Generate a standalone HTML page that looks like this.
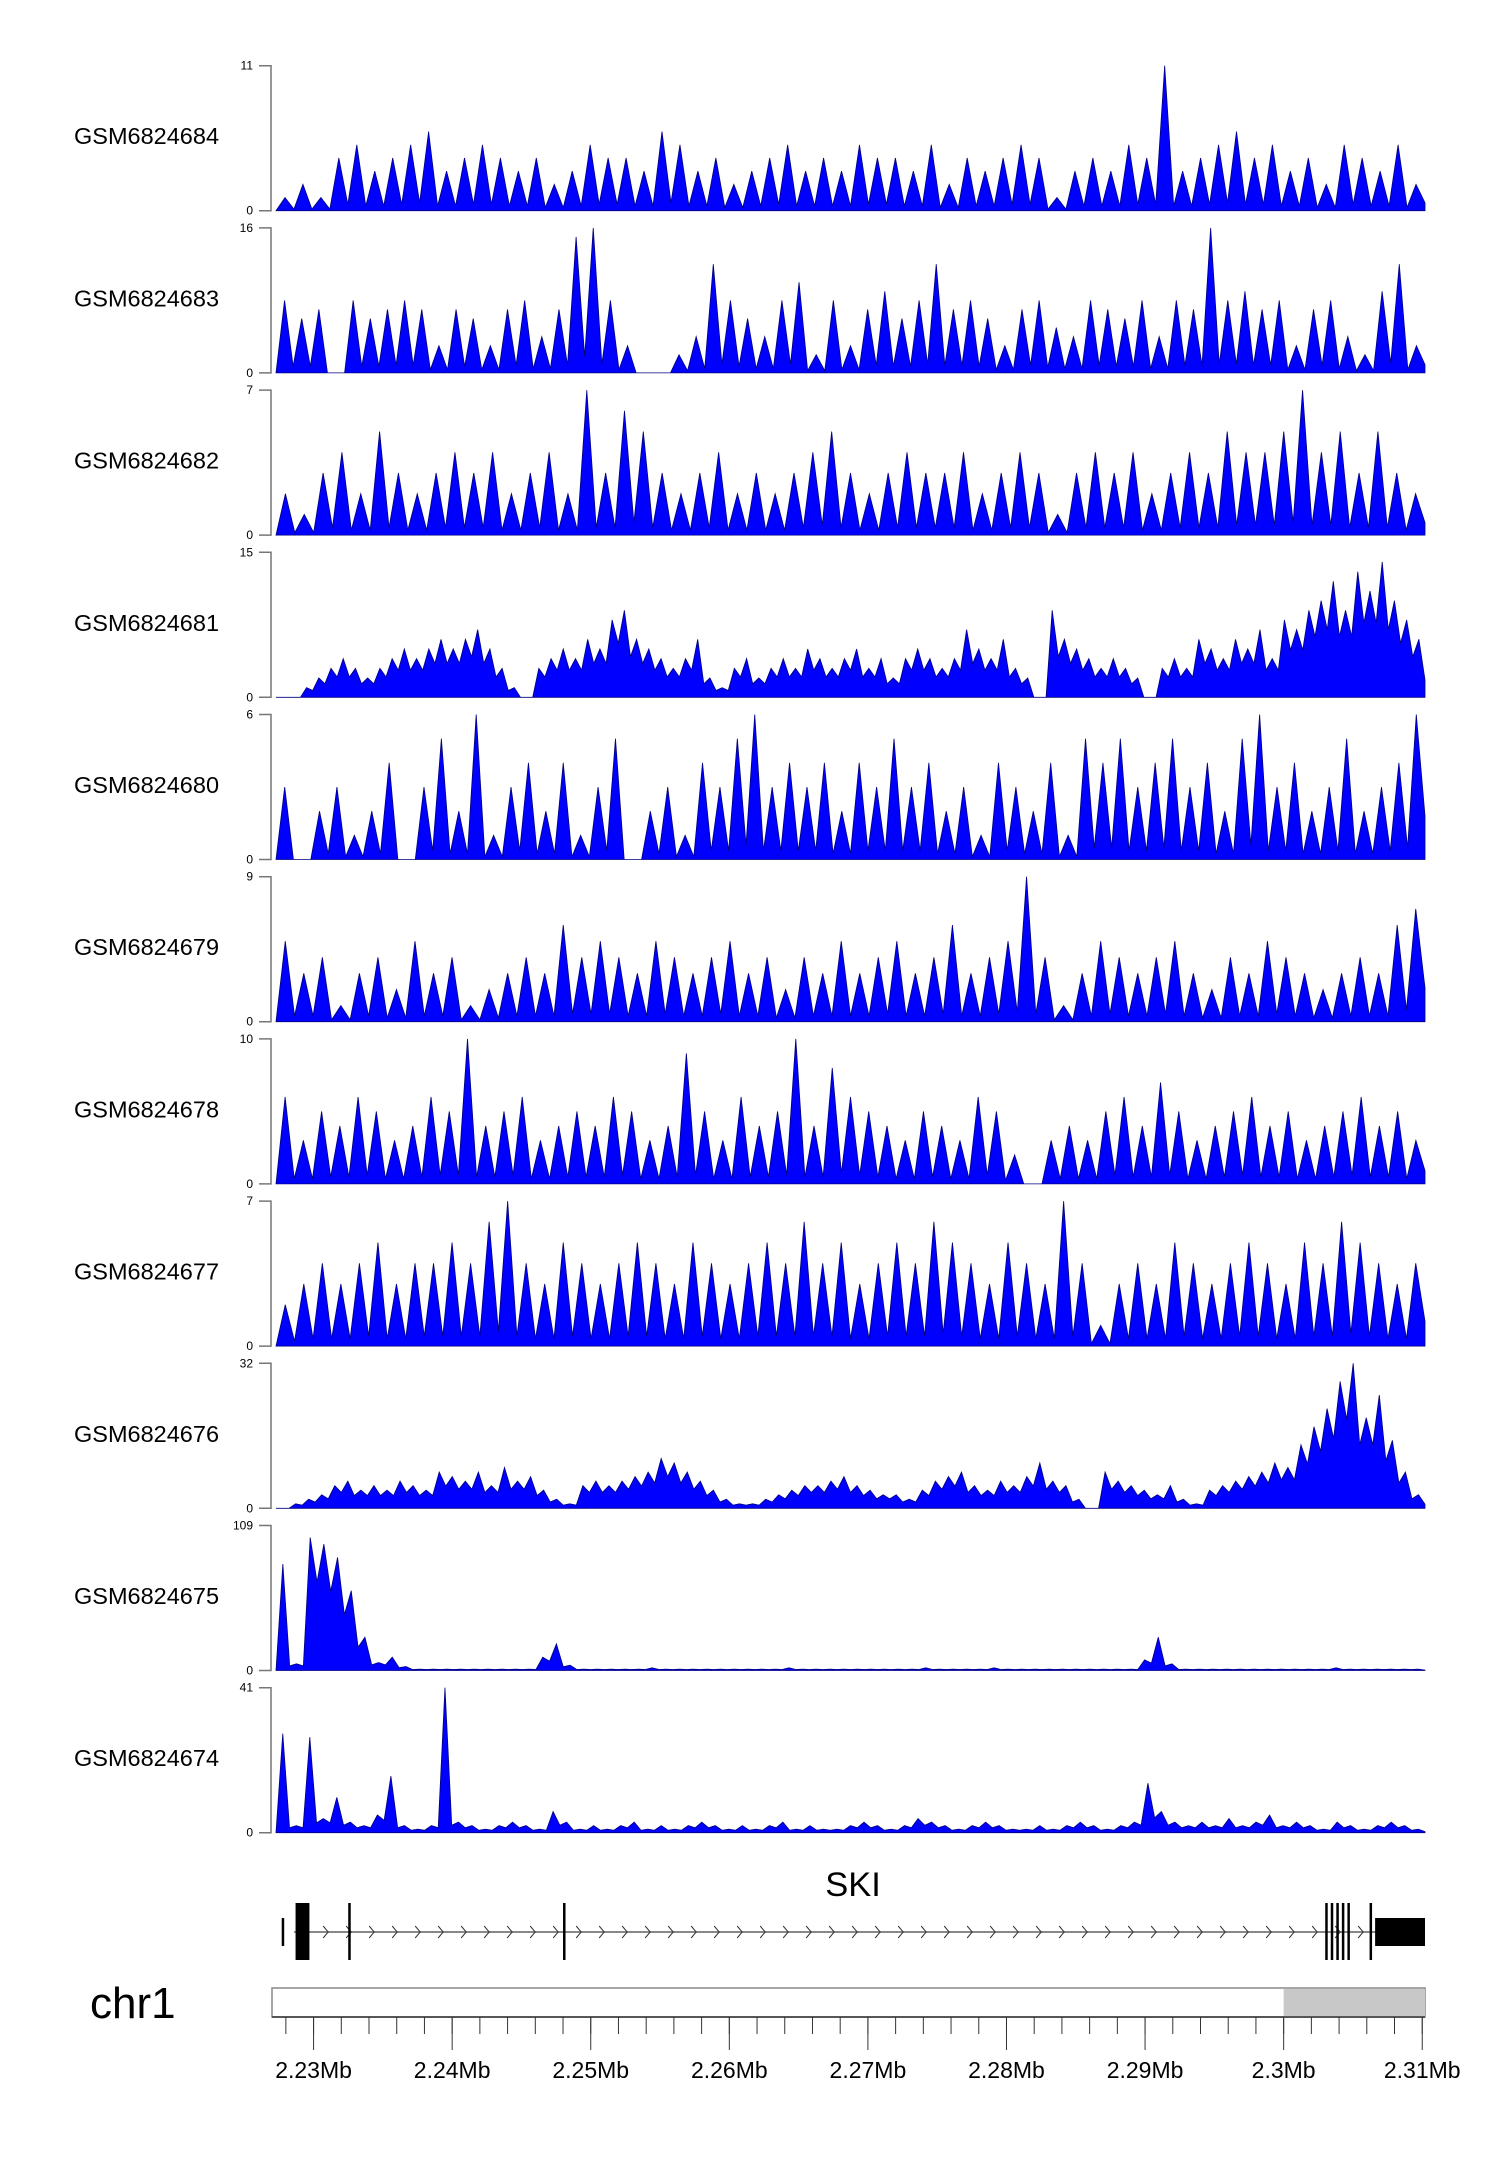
<!DOCTYPE html>
<html><head><meta charset="utf-8">
<style>
html,body{margin:0;padding:0;background:#fff;}
svg{display:block;font-family:"Liberation Sans",sans-serif;}
</style></head>
<body>
<svg id="chart" width="1500" height="2170" viewBox="0 0 1500 2170" xmlns="http://www.w3.org/2000/svg"></svg>
<script>
const trackNames = ["GSM6824684","GSM6824683","GSM6824682","GSM6824681","GSM6824680","GSM6824679","GSM6824678","GSM6824677","GSM6824676","GSM6824675","GSM6824674"];
const trackMax = [11,16,7,15,6,9,10,7,32,109,41];
const trackSmooth = [false,false,false,true,false,false,false,false,true,true,true];
const v684 = [1,2,1,4,5,3,4,5,6,3,4,5,4,3,4,2,3,5,4,4,3,6,5,3,4,2,3,4,5,3,4,3,5,4,4,3,5,2,4,3,4,5,4,1,3,4,3,5,4,11,3,4,5,6,4,5,3,4,2,5,4,3,5,2];
const v683 = [8,6,7,0,8,6,7,8,7,3,7,6,3,7,8,4,7,15,16,8,3,0,0,2,4,12,8,6,4,8,10,2,8,3,7,9,6,8,12,7,8,6,3,7,8,5,4,8,7,6,8,4,8,7,16,8,9,7,8,3,7,8,4,2,9,12,3];
const v682 = [2,1,3,4,2,5,3,2,3,4,3,4,2,3,4,2,7,3,6,5,3,2,3,4,2,3,2,3,4,5,3,2,3,4,3,3,4,2,3,4,3,1,3,4,3,4,2,3,4,3,5,4,4,5,7,4,5,3,5,3,2];
const v681 = [0,0,1,2,3,4,3,2,3,4,5,4,5,6,5,6,7,5,3,1,0,3,4,5,4,6,5,8,9,6,5,4,3,4,6,2,1,3,4,2,3,4,3,5,4,3,4,5,3,4,2,4,5,4,3,4,7,5,4,6,3,2,0,9,6,5,4,3,4,3,2,0,3,4,3,6,5,4,6,5,7,4,8,7,9,10,12,9,13,11,14,10,8,6];
const v680 = [3,0,2,3,1,2,4,0,3,5,2,6,1,3,4,2,4,1,3,5,0,2,3,1,4,3,5,6,3,4,3,4,2,4,3,5,3,4,2,3,1,4,3,2,4,1,5,4,5,3,4,5,3,4,2,5,6,3,4,2,3,5,2,3,4,6];
const v679 = [5,3,4,1,3,4,2,5,3,4,1,2,3,4,3,6,4,5,4,3,5,4,3,4,5,3,4,2,4,3,5,3,4,5,3,4,6,3,4,5,9,4,1,3,5,4,3,4,5,3,2,4,3,5,4,3,2,3,4,3,6,7];
const v678 = [6,3,5,4,6,5,3,4,6,5,10,4,5,6,3,4,5,4,6,5,3,4,9,5,3,6,4,5,10,4,8,6,5,4,3,5,4,3,6,5,2,0,3,4,3,5,6,4,7,5,3,4,5,6,4,5,3,4,5,6,4,5,3];
const v677 = [2,3,4,3,4,5,3,4,4,5,4,6,7,4,3,5,4,3,4,5,4,3,5,4,3,4,5,4,6,4,5,3,4,5,4,6,5,4,3,5,4,3,7,4,1,3,4,3,5,4,3,4,5,4,3,5,4,6,5,4,3,4];
const v676 = [0,1,2,3,5,6,4,5,4,6,5,4,8,7,6,8,5,9,6,7,4,2,1,5,6,5,6,7,8,11,10,8,6,4,2,1,1,2,3,4,5,5,6,7,5,4,3,3,2,4,6,7,8,5,4,6,5,7,10,6,5,2,0,8,6,5,4,3,5,2,1,4,5,6,7,8,10,9,14,18,22,28,32,20,25,15,8,3];
const v675 = [80,5,100,95,85,60,25,6,10,3,1,1,1,1,1,1,1,1,1,10,20,4,1,1,1,1,1,2,1,1,1,1,1,1,1,1,1,2,1,1,1,1,1,1,1,1,1,2,1,1,1,1,2,1,1,1,1,1,1,1,1,1,1,8,25,5,1,1,1,1,1,1,1,1,1,1,1,2,1,1,1,1,1,1];
const v674 = [28,2,27,4,10,3,2,5,16,2,1,2,41,3,2,1,2,3,2,1,6,3,1,2,1,2,3,1,2,1,2,3,2,1,2,1,2,3,1,2,1,1,2,3,2,1,2,4,3,2,1,2,3,2,1,1,2,1,2,3,2,1,2,3,14,6,3,2,3,2,4,2,3,5,2,3,2,1,3,2,1,2,3,2,1];
const trackValues = [v684,v683,v682,v681,v680,v679,v678,v677,v676,v675,v674];
const axisTicks = [2.23,2.24,2.25,2.26,2.27,2.28,2.29,2.30,2.31];
const axisTickLabels = ["2.23Mb","2.24Mb","2.25Mb","2.26Mb","2.27Mb","2.28Mb","2.29Mb","2.3Mb","2.31Mb"];
const geneStart = 2.2286, geneEnd = 2.3102;
const exonStarts = [2.2277,2.2287,2.2325,2.2480,2.3030,2.3034,2.3038,2.3042,2.3046,2.3062,2.3066];
const exonEnds   = [2.2278,2.2297,2.2326,2.2481,2.3031,2.3035,2.3039,2.3043,2.3047,2.3063,2.3102];
const exonTall   = [0,1,1,1,1,1,1,1,1,1,0];

const NS="http://www.w3.org/2000/svg";
const svg=document.getElementById('chart');
const X0=272, X1=1425, G0=2.2270, G1=2.3102;
function gx(g){return X0+(g-G0)/(G1-G0)*(X1-X0);}
function mk(t,a,p){const e=document.createElementNS(NS,t);for(const k in a)e.setAttribute(k,a[k]);(p||svg).appendChild(e);return e;}

const TOP0=65.7, PITCH=162.2, TH=145;
trackNames.forEach((name,i)=>{
  const top=TOP0+PITCH*i, base=top+TH;
  const g=mk('g',{});
  
  
  const lab=mk('text',{x:74,y:top+TH*0.5+6,'font-size':23.5,fill:'#000'},g);
  lab.textContent=name;
  
  
  const ax=mk('path',{d:`M259,${top}H271V${base}H259`,stroke:'#777','stroke-width':1.5,fill:'none'},g);
  
  
  const t1=mk('text',{x:253,y:top+4,'font-size':12,'text-anchor':'end',fill:'#000'},g);
  t1.textContent=String(trackMax[i]);
  
  
  const t0=mk('text',{x:253,y:base+4,'font-size':12,'text-anchor':'end',fill:'#000'},g);
  t0.textContent='0';
  
  
  const vals=trackValues[i], n=vals.length, mx=trackMax[i];
  const f=trackSmooth[i]?0.7:0.12;
  const xs=k=>X0+4+(k+0.5)/n*(X1-X0-4);
  const ys=v=>base-Math.min(v,mx)/mx*TH;
  let d=`M${X0+4},${base}`;
  for(let k=0;k<n;k++){
    if(k>0){const lv=f*Math.min(vals[k-1],vals[k]);d+=`L${xs(k-0.5)},${ys(lv)}`;}
    d+=`L${xs(k)},${ys(vals[k])}`;
  }
  d+=`L${X1},${ys(vals[n-1]*0.3)}L${X1},${base}Z`;
  const p=mk('path',{d:d,fill:'#0000ff',stroke:'#000080','stroke-width':0.8},g);
  
  
});

// gene track
const gg=mk('g',{});


const sk=mk('text',{x:853,y:1896,'font-size':34.5,'text-anchor':'middle',fill:'#000'},gg);
sk.textContent='SKI';


const GY=1932;
const gl=mk('line',{x1:gx(geneStart),x2:gx(geneEnd),y1:GY,y2:GY,stroke:'#888','stroke-width':2},gg);


for(let x=gx(geneStart)+6;x<gx(2.3062);x+=23){
  const a=mk('path',{d:`M${x},${GY-6}L${x+5},${GY}L${x},${GY+6}`,stroke:'#333','stroke-width':1,fill:'none'},gg);
  
  
}
exonStarts.forEach((s,i)=>{
  const x=gx(s), w=Math.max(2.5,gx(exonEnds[i])-x);
  const y0=exonTall[i]?1903:1918, y1=exonTall[i]?1960:1946;
  const r=mk('rect',{x:x,y:y0,width:w,height:y1-y0,fill:'#000'},gg);
  
  
});

// chromosome axis
const ca=mk('g',{});


const cl=mk('text',{x:90,y:2018,'font-size':44,fill:'#000'},ca);
cl.textContent='chr1';


const ideo=mk('rect',{x:X0,y:1988,width:X1-X0,height:29,fill:'#fff',stroke:'#888','stroke-width':1.5},ca);


const band=mk('rect',{x:gx(2.30),y:1989,width:X1-gx(2.30),height:28,fill:'#c8c8c8'},ca);


mk('line',{x1:X0,x2:X1,y1:2017,y2:2017,stroke:'#333','stroke-width':1.5},ca);
for(let g=2.228;g<=2.3105;g+=0.002){
  const x=gx(g);
  const t=mk('line',{x1:x,x2:x,y1:2017,y2:2034,stroke:'#333','stroke-width':1},ca);
  
  
}
axisTicks.forEach((g,i)=>{
  const x=gx(g);
  const t=mk('line',{x1:x,x2:x,y1:2017,y2:2050,stroke:'#333','stroke-width':1},ca);
  
  
  const l=mk('text',{x:x,y:2078,'font-size':23,'text-anchor':'middle',fill:'#000'},ca);
  l.textContent=axisTickLabels[i];
  
  
});
</script>
</body></html>
